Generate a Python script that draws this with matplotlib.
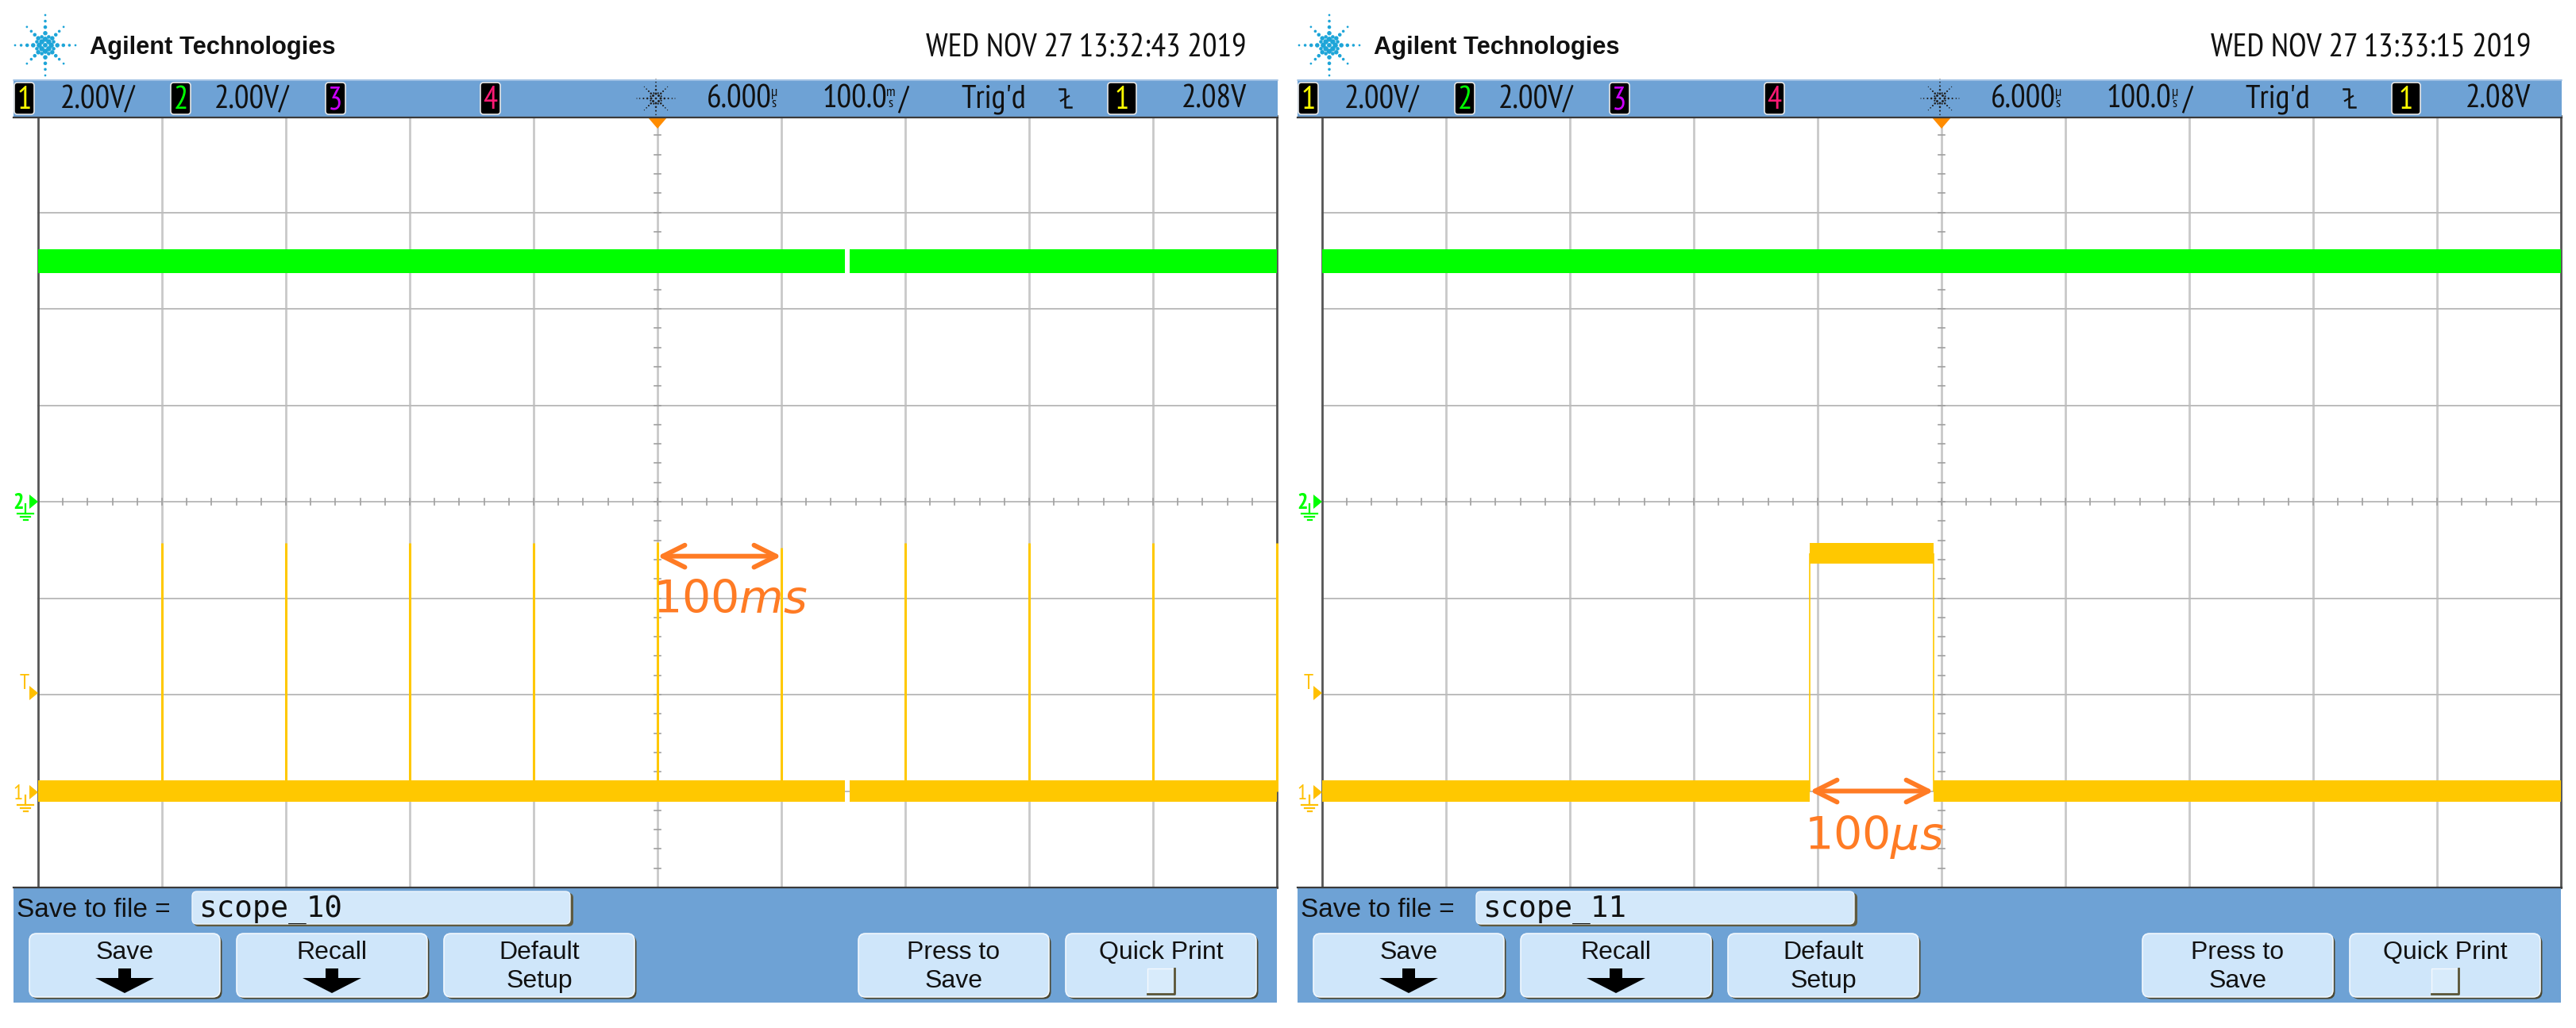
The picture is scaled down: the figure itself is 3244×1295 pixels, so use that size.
import numpy as np
import matplotlib
matplotlib.use("Agg")
import matplotlib.pyplot as plt
from matplotlib import font_manager
from matplotlib.font_manager import FontProperties
from matplotlib.textpath import TextPath
from matplotlib.patches import Rectangle, FancyBboxPatch, Polygon, Circle

# ---------------- data ----------------
DATES = ["WED NOV 27 13:32:43 2019", "WED NOV 27 13:33:15 2019"]
FILES = ["scope_10", "scope_11"]
CH_SCALE = ["2.00V/", "2.00V/"]
DELAY = "6.000"
TIMEBASE = "100.0"
TB_UNIT = ["m", "µ"]
TRIG_LEVEL = "2.08V"
TRIG_TEXT = "Trig'd"
BUTTONS = ["Save", "Recall", "Default\nSetup", "", "Press to\nSave", "Quick Print"]
ANNOT = [r"$100ms$", r"$100\mu s$"]

# left capture (time in ms, volts)
L_SPIKE_T = [-400, -300, -200, -100, 0, 100, 200, 300, 400, 500]
L_SPIKE_TOP = [5.14, 5.14, 5.14, 5.14, 5.16, 5.04, 5.14, 5.14, 5.14, 5.14]
L_GAP = [151.0, 155.0]
# right capture (time in µs, volts)
R_EDGES = [-100.4, -0.4]
R_HIGH = 4.93
CH1_LOW = 0.0
CH2_LEVEL = 4.99
CH1_PP = 0.44
CH2_PP = 0.49
SCREEN_CENTER_T = [0.006, 6.0]
TDIV = 100.0
VDIV = 2.0

# ---------------- style ----------------
W, H, DPI = 3244, 1295, 100
BLUE = "#6ea2d5"
YEL = "#ffc800"
GRN = "#00ff00"
ORG = "#ff7b24"
BTN = "#cfe6fa"

avail = {f.name for f in font_manager.fontManager.ttflist}


def pick(*names):
    for n in names:
        if n in avail:
            return n
    return "DejaVu Sans"


NARROW = pick("Liberation Sans Narrow", "Arial Narrow", "PT Sans Narrow", "Archivo Narrow",
              "Roboto Condensed", "Fira Sans Condensed", "Liberation Sans")
REG = pick("Liberation Sans", "Arimo", "Arial", "DejaVu Sans")
MONO = pick("DejaVu Sans Mono", "Liberation Mono")
plt.rcParams["mathtext.fontset"] = "dejavusans"

# scale the condensed font so that the date string spans its measured width (402 px)
_ext = TextPath((0, 0), DATES[0], size=27.5, prop=FontProperties(family=NARROW)).get_extents()
NS = min(1.25, max(0.7, 402.0 / (_ext.width * DPI / 72.0)))

fig = plt.figure(figsize=(W / DPI, H / DPI), dpi=DPI, facecolor="white")
bg = fig.add_axes([0, 0, 1, 1], zorder=0)
fg = fig.add_axes([0, 0, 1, 1], zorder=5)
for a in (bg, fg):
    a.set_xlim(0, W)
    a.set_ylim(H, 0)
    a.set_axis_off()

GX0, GX1, GY0, GY1 = 48, 1608, 146, 1118
DX = (GX1 - GX0) / 10
DY = (GY1 - GY0) / 8
OFFSETS = [0, 1617]


def ntext(ax, x, y, s, size, **kw):
    kw.setdefault("va", "baseline")
    ax.text(x, y, s, fontsize=size * NS, family=NARROW, **kw)


def spark(ax, cx, cy, R, color, dot, rays=(0.2, 0.4, 0.6, 0.8, 1.0)):
    ax.add_patch(Circle((cx, cy), dot * 0.45, color=color, lw=0))
    ss = [1.0, 0.85, 0.7, 0.55, 0.42, 0.35]
    for k in range(8):
        ang = k * np.pi / 4
        rr = list(rays) if k % 2 == 0 else [r * 0.82 for r in rays[:-1]] + [rays[-1] * 0.86]
        for r, s in zip(rr, ss):
            ax.add_patch(Circle((cx + R * r * np.cos(ang), cy + R * r * np.sin(ang)),
                                dot * s / 2, color=color, lw=0))
        a2 = ang + np.pi / 8
        ax.add_patch(Circle((cx + R * 0.3 * np.cos(a2), cy + R * 0.3 * np.sin(a2)),
                            dot * 0.35, color=color, lw=0))


def badge(ax, x, w, digit, color):
    ax.add_patch(FancyBboxPatch((x, 104), w, 40, boxstyle="round,pad=0,rounding_size=4",
                                fc="black", ec="#e6e6e6", lw=1.2))
    ntext(ax, x + w / 2, 137, digit, 27, color=color, ha="center")


def ground(ax, x, y, color):
    ax.plot([x, x], [y - 8, y + 4], color=color, lw=1.6)
    for dy, hw in [(4, 10), (8, 6), (12, 2.5)]:
        ax.plot([x - hw, x + hw], [y + dy, y + dy], color=color, lw=1.6)


def panel(idx):
    ox = OFFSETS[idx]
    # ---- grid (background) ----
    for k in range(1, 10):
        x = ox + GX0 + k * DX
        bg.plot([x, x], [GY0, GY1], color="#c9c9c9", lw=2.0, solid_capstyle="butt")
    for k in range(1, 8):
        y = GY0 + k * DY
        bg.plot([ox + GX0, ox + GX1], [y, y], color="#bcbcbc", lw=1.4)
    cx, cy = ox + GX0 + 5 * DX, GY0 + 4 * DY
    for k in range(1, 50):
        x = ox + GX0 + k * DX / 5
        bg.plot([x, x], [cy - 4, cy + 4], color="#a0a0a0", lw=1.2)
    for k in range(1, 40):
        y = GY0 + k * DY / 5
        bg.plot([cx - 4, cx + 4], [y, y], color="#a0a0a0", lw=1.2)
    for x in (ox + GX0, ox + GX1):
        bg.plot([x, x], [GY0, GY1], color="#555555", lw=2.0)

    # ---- header ----
    fg.add_patch(Rectangle((ox + 17, 100), 1592, 47, fc=BLUE, ec="none"))
    fg.plot([ox + 17, ox + 1609], [100.5, 100.5], color="#a9c8e8", lw=1.2)
    fg.plot([ox + 17, ox + 1609], [147.5, 147.5], color="#3a3a3a", lw=1.6)
    spark(fg, ox + 57, 57, 38, "#1ea5d8", 6.5)
    fg.text(ox + 113, 68, "Agilent Technologies", fontsize=22.2, family=REG,
            weight="bold", va="baseline", color="#111111")
    ntext(fg, ox + 1570, 72, DATES[idx], 27.5, ha="right", color="#111111")
    badge(fg, ox + 18, 25, "1", "#ffff00")
    ntext(fg, ox + 76, 136, CH_SCALE[0], 27.5, color="#111111")
    badge(fg, ox + 215, 25, "2", "#00ff00")
    ntext(fg, ox + 270, 136, CH_SCALE[1], 27.5, color="#111111")
    badge(fg, ox + 410, 25, "3", "#cc00ff")
    badge(fg, ox + 605, 25, "4", "#ff1a75")
    spark(fg, ox + 826, 124, 24, "#222222", 3.0, rays=(0.25, 0.45, 0.65, 0.85, 1.0))
    ntext(fg, ox + 890, 136, DELAY, 27.5, color="#111111")
    ntext(fg, ox + 975, 121, "µ", 12, color="#111111", ha="center")
    ntext(fg, ox + 975, 135, "s", 12, color="#111111", ha="center")
    ntext(fg, ox + 1036, 136, TIMEBASE, 27.5, color="#111111")
    ntext(fg, ox + 1122, 121, TB_UNIT[idx], 12, color="#111111", ha="center")
    ntext(fg, ox + 1122, 135, "s", 12, color="#111111", ha="center")
    ntext(fg, ox + 1131, 136, "/", 27.5, color="#111111")
    ntext(fg, ox + 1210, 136, TRIG_TEXT, 27.5, color="#111111")
    fg.plot([ox + 1334, ox + 1341, ox + 1341, ox + 1349],
            [112, 112, 135, 135], color="#111111", lw=1.8)
    fg.plot([ox + 1336, ox + 1346], [127, 121], color="#111111", lw=1.6)
    badge(fg, ox + 1395, 36, "1", "#ffff00")
    ntext(fg, ox + 1570, 136, TRIG_LEVEL, 27.5, ha="right", color="#111111")
    c = ox + 828
    fg.add_patch(Polygon([(c - 12, 148), (c + 12, 148), (c, 162)], closed=True,
                         fc="#ff8c00", ec="none"))

    # ---- channel markers ----
    ntext(fg, ox + 23, 641, "2", 19, color=GRN, ha="center", weight="bold")
    fg.add_patch(Polygon([(ox + 37, 623), (ox + 37, 641), (ox + 48, 632)], fc=GRN, ec="none"))
    ground(fg, ox + 32, 643, GRN)
    ntext(fg, ox + 31, 868, "T", 18, color="#ffc000", ha="center")
    fg.add_patch(Polygon([(ox + 37, 864), (ox + 37, 882), (ox + 48, 873)], fc="#ffc000", ec="none"))
    ntext(fg, ox + 22, 1007, "1", 18, color="#ffc000", ha="center")
    fg.add_patch(Polygon([(ox + 37, 989), (ox + 37, 1007), (ox + 48, 998)], fc="#ffc000", ec="none"))
    ground(fg, ox + 32, 1010, "#ffc000")

    # ---- bottom softkey area ----
    fg.add_patch(Rectangle((ox + 17, 1118), 1591, 145, fc=BLUE, ec="none"))
    fg.plot([ox + 17, ox + 1609], [1118, 1118], color="#3a3a3a", lw=1.6)
    fg.text(ox + 21, 1155, "Save to file =", fontsize=24, family=REG, va="baseline", color="#111111")
    fg.add_patch(FancyBboxPatch((ox + 244, 1125), 478, 42, boxstyle="round,pad=0,rounding_size=6",
                                fc="#5e5a40", ec="none"))
    fg.add_patch(FancyBboxPatch((ox + 242, 1123), 476, 41, boxstyle="round,pad=0,rounding_size=6",
                                fc="#d3e8fa", ec="#eef6fd", lw=1))
    fg.text(ox + 250, 1155, FILES[idx], fontsize=27, family=MONO, va="baseline", color="#111111")
    for i, lab in enumerate(BUTTONS):
        if not lab:
            continue
        bx = ox + 37 + i * 261
        fg.add_patch(FancyBboxPatch((bx + 2.5, 1178.5), 240, 80, boxstyle="round,pad=0,rounding_size=9",
                                    fc="#4a4630", ec="none"))
        fg.add_patch(FancyBboxPatch((bx, 1176), 240, 80, boxstyle="round,pad=0,rounding_size=9",
                                    fc=BTN, ec="#f2f8fd", lw=1.2))
        mx = bx + 120
        lines = lab.split("\n")
        for j, ln in enumerate(lines):
            fg.text(mx, 1208 + 36 * j, ln, fontsize=23, family=REG, va="baseline",
                    ha="center", color="#111111")
        if lab in ("Save", "Recall"):
            fg.add_patch(Polygon([(mx - 8, 1220), (mx + 8, 1220), (mx + 8, 1232), (mx + 37, 1232),
                                  (mx, 1251), (mx - 37, 1232), (mx - 8, 1232)], fc="black", ec="none"))
        if lab == "Quick Print":
            fg.add_patch(Rectangle((mx - 17, 1220), 34, 32, fc="#d8ebfb", ec="#f5f9fd", lw=1))
            fg.plot([mx + 17, mx + 17, mx - 17], [1220, 1252, 1252], color="#5a5436", lw=2)

    # ---- waveform data ----
    rect = [(ox + GX0) / W, 1 - GY1 / H, (GX1 - GX0) / W, (GY1 - GY0) / H]
    ct = SCREEN_CENTER_T[idx]
    xl = (ct - 5 * TDIV, ct + 5 * TDIV)
    a2 = fig.add_axes(rect, zorder=1)
    a1 = fig.add_axes(rect, zorder=2)
    for a in (a1, a2):
        a.set_axis_off()
        a.set_xlim(*xl)
    a1.set_ylim(-1 * VDIV, 7 * VDIV)   # channel 1 ground three divisions below centre
    a2.set_ylim(-4 * VDIV, 4 * VDIV)   # channel 2 ground at centre

    if idx == 0:
        segs = [(xl[0], L_GAP[0]), (L_GAP[1], xl[1])]
        for s0, s1 in segs:
            a2.fill_between([s0, s1], CH2_LEVEL - CH2_PP / 2, CH2_LEVEL + CH2_PP / 2,
                            color=GRN, lw=0)
            a1.fill_between([s0, s1], CH1_LOW - CH1_PP / 2, CH1_LOW + CH1_PP / 2,
                            color=YEL, lw=0)
        a1.vlines(L_SPIKE_T, CH1_LOW, L_SPIKE_TOP, color=YEL, lw=2.2, clip_on=False)
        a1.annotate("", xy=(100, 4.87), xytext=(0, 4.87),
                    arrowprops=dict(arrowstyle="<->,head_length=1.0,head_width=0.5",
                                    lw=4.3, color=ORG, shrinkA=0, shrinkB=0, mutation_scale=20))
        a1.text(-3.8, 3.70, ANNOT[0], fontsize=41, color=ORG, va="baseline", ha="left")
    else:
        a2.fill_between([xl[0], xl[1]], CH2_LEVEL - CH2_PP / 2, CH2_LEVEL + CH2_PP / 2,
                        color=GRN, lw=0)
        for s0, s1 in [(xl[0], R_EDGES[0]), (R_EDGES[1], xl[1])]:
            a1.fill_between([s0, s1], CH1_LOW - CH1_PP / 2, CH1_LOW + CH1_PP / 2,
                            color=YEL, lw=0)
        a1.fill_between(R_EDGES, R_HIGH - CH1_PP / 2, R_HIGH + CH1_PP / 2, color=YEL, lw=0)
        a1.vlines(R_EDGES, CH1_LOW, R_HIGH, color=YEL, lw=1.2)
        a1.annotate("", xy=(R_EDGES[1], 0.0), xytext=(R_EDGES[0], 0.0),
                    arrowprops=dict(arrowstyle="<->,head_length=1.0,head_width=0.5",
                                    lw=4.3, color=ORG, shrinkA=0, shrinkB=0, mutation_scale=20))
        a1.text(-104.9, -1.21, ANNOT[1], fontsize=41, color=ORG, va="baseline", ha="left",
                clip_on=False)


for i in range(2):
    panel(i)

fig.savefig("out.png", dpi=DPI, facecolor="white")
